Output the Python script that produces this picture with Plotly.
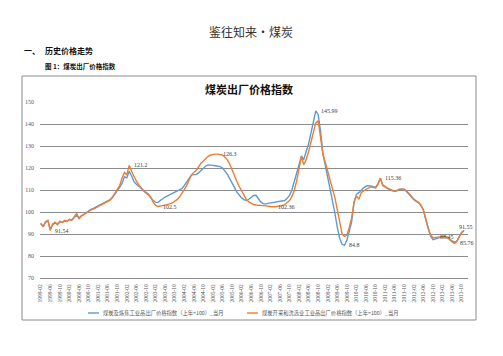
import pandas as pd
import plotly.graph_objects as go

months = [p.strftime("%Y-%m") for p in pd.period_range("1999-02", periods=178, freq="M")]

series_blue_name = "煤炭及炼焦工业品出厂价格指数（上年=100）_当月"
series_orange_name = "煤炭开采和洗选业工业品出厂价格指数（上年=100）_当月"

blue = [
    94.6, 93.6, 95.2, 96.0, 92.2, 94.2, 95.0, 94.6, 95.4, 95.4,
    95.8, 95.9, 96.4, 96.5, 97.4, 98.6, 97.4, 98.2, 99.0, 99.8,
    100.4, 101.2, 101.6, 102.2, 102.8, 103.3, 103.9, 104.4, 104.9, 105.6,
    106.6, 108.0, 109.6, 111.2, 113.0, 116.0, 115.5, 118.5, 116.5, 113.8,
    112.6, 111.8, 110.8, 109.6, 108.8, 107.8, 106.5, 105.2, 104.5, 104.3,
    105.2, 106.2, 106.8, 107.3, 107.8, 108.4, 108.9, 109.3, 110.0, 110.6,
    112.0, 113.8, 115.5, 116.8, 117.0, 117.0, 117.8, 119.0, 120.0, 120.9,
    121.4, 121.4, 121.2, 121.0, 120.8, 120.6, 120.0, 118.8, 117.2, 115.2,
    113.4, 111.2, 109.0, 107.4, 106.4, 105.6, 105.2, 105.8, 106.8, 107.5,
    107.6, 106.2, 104.6, 103.8, 103.6, 103.9, 104.1, 104.3, 104.5, 104.6,
    104.8, 105.0, 105.2, 106.2, 107.5, 110.0, 113.5, 117.0, 121.5, 125.5,
    123.8, 127.6, 131.0, 136.0, 141.5, 145.99, 144.2, 136.7, 126.5, 121.0,
    115.5, 111.0, 106.0, 99.5, 93.0, 88.0, 85.3, 84.8, 87.2, 91.5,
    95.5, 104.5, 108.0, 108.8, 110.0, 111.0, 111.7, 112.0, 111.8, 111.4,
    111.2, 112.9, 115.36, 112.0, 111.2, 110.6, 110.2, 109.6, 109.4, 109.6,
    110.2, 110.3, 110.2, 109.2, 107.9, 106.6, 105.6, 104.8, 104.2, 102.8,
    100.8, 96.5, 92.2, 89.0, 87.4, 87.8, 88.3, 88.7, 88.8, 88.9,
    88.6, 87.6, 86.8, 86.2, 86.9, 88.9, 90.8, 91.6,
]

orange = [
    95.0, 93.2, 95.6, 96.2, 91.54, 94.6, 95.4, 94.2, 95.8, 95.2,
    96.2, 95.6, 96.8, 96.2, 97.8, 99.4, 96.8, 98.4, 98.8, 99.6,
    100.2, 100.9, 101.3, 101.9, 102.5, 103.1, 103.8, 104.3, 104.7, 105.4,
    106.8, 108.4, 110.0, 112.0, 115.5, 118.0, 117.0, 121.2, 118.5, 116.0,
    114.0, 112.3, 111.0, 109.8, 109.0, 108.2, 106.8, 104.5, 103.0, 102.5,
    102.7, 102.9, 103.1, 103.3, 103.7, 104.1, 104.8, 105.6, 106.8, 108.3,
    110.2, 112.0, 114.5, 116.8, 118.0, 119.0, 120.5, 122.2, 123.2, 124.3,
    125.3, 125.9, 126.2, 126.3, 126.3, 126.2, 125.9, 125.0, 123.8, 121.8,
    119.0, 116.6, 114.0, 111.6, 109.4, 107.3, 105.6, 104.6, 103.8, 103.4,
    103.2, 103.0, 102.9, 102.9, 102.8, 102.6, 102.45, 102.36, 102.42, 102.5,
    102.6, 102.9, 103.4, 104.1, 105.2, 107.0, 109.8, 114.0, 119.5, 125.3,
    121.5, 123.8, 127.5, 131.5, 136.5, 140.5, 141.5, 133.5, 126.0, 122.5,
    118.5, 114.8, 111.0, 106.4, 101.0, 95.0, 90.0, 88.9, 89.5, 93.0,
    97.3, 104.5, 107.2, 105.8, 108.8, 109.6, 110.4, 110.9, 111.4, 111.0,
    110.9, 112.5, 115.3, 112.3, 111.5, 110.9, 110.4, 109.8, 109.4, 109.8,
    110.4, 110.5, 110.3, 109.5, 108.2, 106.9, 105.9, 105.1, 104.4, 103.0,
    101.0, 96.8, 92.5, 89.6, 88.2, 88.45, 88.6, 88.8, 88.7, 88.9,
    88.4, 87.3, 86.4, 85.76, 86.6, 88.8, 90.6, 91.55,
]

# data labels: (series, index, text)
labels = [
    ("orange", 4, "91.54"),
    ("orange", 37, "121.2"),
    ("orange", 49, "102.5"),
    ("orange", 74, "126.3"),
    ("orange", 97, "102.36"),
    ("blue", 115, "145.99"),
    ("blue", 127, "84.8"),
    ("blue", 142, "115.36"),
    ("orange", 165, "88.45"),
    ("orange", 173, "85.76"),
    ("orange", 177, "91.55"),
]

y_ticks = [70, 80, 90, 100, 110, 120, 130, 140, 150]
tick_months = months[::4]

BLUE = "#5B9BD5"
ORANGE = "#ED7D31"
CJK = "Noto Sans CJK SC"

# the page body has an 8px margin: work in screen pixels, then shift by OFF
OFF = 8
W, H = 487, 340
L, R, T, B = 40 - OFF, 468 - OFF, 102 - OFF, 278 - OFF


def fx(sx):
    return (sx - OFF - L) / (R - L)


def fy(sy):
    return (B - (sy - OFF)) / (B - T)


fig = go.Figure()
fig.add_trace(go.Scatter(x=months, y=blue, mode="lines", name=series_blue_name,
                         line=dict(color=BLUE, width=1.4), showlegend=False))
fig.add_trace(go.Scatter(x=months, y=orange, mode="lines", name=series_orange_name,
                         line=dict(color=ORANGE, width=1.4), showlegend=False))

annotations = []
data = {"blue": blue, "orange": orange}
for s, i, txt in labels:
    last = i == len(months) - 1
    annotations.append(dict(
        x=months[i], y=data[s][i], xref="x", yref="y", text=txt, showarrow=False,
        xanchor="center" if last else "left", yanchor="middle",
        xshift=2 if last else 3, yshift=4 if last else 0,
        font=dict(family="Liberation Serif, " + CJK, size=6, color="#404040"),
    ))


def page_text(sx, sy, text, size, color, anchor="left"):
    return dict(x=fx(sx), y=fy(sy), xref="paper", yref="paper", text=text, showarrow=False,
                font=dict(family=CJK, size=size, color=color),
                xanchor=anchor, yanchor="middle")


annotations += [
    page_text(251, 31, "鉴往知来·煤炭", 12, "#333333", "center"),
    page_text(22, 50, "<b>一、</b>", 8, "#111111"),
    page_text(43, 50, "<b>历史价格走势</b>", 8, "#111111"),
    page_text(43, 66, "<b>图 1：煤炭出厂价格指数</b>", 6.5, "#111111"),
    page_text(249, 89, "<b>煤炭出厂价格指数</b>", 11, "#111111", "center"),
    page_text(101, 313, series_blue_name, 5.3, "#595959"),
    page_text(260, 313, series_orange_name, 5.3, "#595959"),
]

shapes = [
    dict(type="rect", xref="paper", yref="paper", x0=fx(22), x1=fx(476), y0=fy(320), y1=fy(76),
         line=dict(color="#8c8c8c", width=1), fillcolor="rgba(0,0,0,0)", layer="below"),
    dict(type="line", xref="paper", yref="paper", x0=fx(88), x1=fx(99), y0=fy(313), y1=fy(313),
         line=dict(color=BLUE, width=1.4)),
    dict(type="line", xref="paper", yref="paper", x0=fx(247), x1=fx(258), y0=fy(313), y1=fy(313),
         line=dict(color=ORANGE, width=1.4)),
]

span = (R - L) / 2.392
r0 = -0.7 / 2.392
fig.update_layout(
    width=W, height=H,
    margin=dict(l=L, r=W - R, t=T, b=H - B, pad=0),
    paper_bgcolor="white", plot_bgcolor="white",
    annotations=annotations, shapes=shapes,
    xaxis=dict(type="category", range=[r0, r0 + span], tickmode="array",
               tickvals=tick_months, ticktext=tick_months, tickangle=-90,
               tickfont=dict(family="Liberation Serif", size=5.5, color="#595959"),
               showgrid=False, showline=True, linecolor="#8c8c8c", linewidth=1,
               ticks="", zeroline=False, ticklabelstandoff=3),
    yaxis=dict(range=[70, 150], tickvals=y_ticks, ticktext=[str(v) for v in y_ticks],
               tickfont=dict(family="Liberation Serif", size=6, color="#595959"),
               showgrid=True, gridcolor="#8c8c8c", gridwidth=1, zeroline=False,
               showline=False, ticks="", ticklabelstandoff=5),
)

fig.write_html("out.html")
